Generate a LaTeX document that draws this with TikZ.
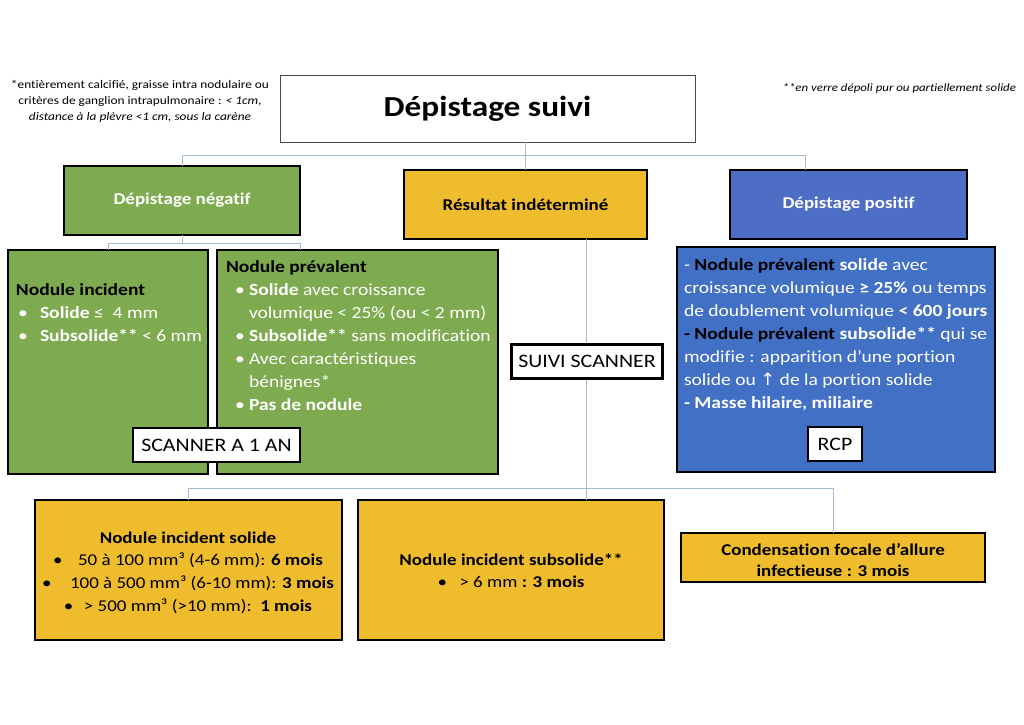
\documentclass[tikz,border=0pt]{standalone}
\usepackage{fontspec}
\setmainfont{Carlito}[FakeStretch=1.15, Ligatures=NoCommon]
\newfontfamily\symf{DejaVu Sans}[FakeStretch=1.05]
\definecolor{gfill}{HTML}{7FAB50}
\definecolor{yfill}{HTML}{EFBC2E}
\definecolor{hblue}{HTML}{4E6EC6}
\definecolor{bblue}{HTML}{4170C4}
\definecolor{connc}{HTML}{A6BAD0}
\newcommand\bdot[2]{\hspace*{#1}\makebox[#2][l]{•}}
\begin{document}
\begin{tikzpicture}[x=1pt,y=-1pt,
  conn/.style={draw=connc, line width=1pt},
  boxbase/.style={draw=black, line width=1.2pt, inner sep=0pt, outer sep=0pt},
  gbox/.style={boxbase, fill=gfill},
  ybox/.style={boxbase, fill=yfill},
  hbbox/.style={boxbase, fill=hblue},
  bbbox/.style={boxbase, fill=bblue},
  wbox/.style={draw=black, line width=2.2pt, fill=white, inner sep=0pt, outer sep=0pt, font=\fontsize{19}{22}\selectfont},
  hdrtxt/.style={font=\fontsize{16.5}{20}\selectfont\bfseries},
  body/.style={inner sep=0pt, outer sep=0pt, font=\fontsize{17}{23}\selectfont},
  bodyc/.style={inner sep=0pt, outer sep=0pt, font=\fontsize{16.5}{22.8}\selectfont},
  note/.style={inner sep=0pt, outer sep=0pt, font=\fontsize{11.6}{16}\selectfont}
]
\fill[white] (0,0) rectangle (1024,724);
\useasboundingbox (0,0) rectangle (1024,724);

% top notes
\node[note, anchor=center, align=center] (noteL) at (140,101)
  {*entièrement calcifié, graisse intra nodulaire ou\\
   critères de ganglion intrapulmonaire : \textit{< 1cm,}\\
   \textit{distance à la plèvre <1 cm, sous la carène}};
\node[note, anchor=east, font=\fontsize{11.2}{16}\selectfont] (noteR) at (1016,88)
  {\textit{**en verre dépoli pur ou partiellement solide}};

% title
\node[draw=black!70, line width=0.8pt, fill=white, minimum width=415, minimum height=67,
      inner sep=0pt, font=\fontsize{29}{32}\selectfont\bfseries] (title) at (487.5,108.5) {Dépistage suivi};

% headers
\node[gbox, hdrtxt, text=white, minimum width=236, minimum height=69] (neg) at (182,200.5) {Dépistage négatif};
\node[ybox, hdrtxt, text=black, minimum width=243, minimum height=69] (ind) at (525.5,204.5) {Résultat indéterminé};
\node[hbbox, hdrtxt, text=white, minimum width=237, minimum height=69] (pos) at (848.5,204.5) {Dépistage positif};

% second row boxes
\node[gbox, minimum width=200, minimum height=224] (inc) at (108,362) {};
\node[gbox, minimum width=281, minimum height=224] (prev) at (357.5,362) {};
\node[bbbox, minimum width=318, minimum height=225] (posb) at (836,359.5) {};

% bottom boxes
\node[ybox, minimum width=307, minimum height=140] (sol) at (188.5,570) {};
\node[ybox, minimum width=306, minimum height=140] (mid) at (511,570) {};
\node[ybox, minimum width=304, minimum height=49] (cond) at (833,557.5) {};

% connectors
\coordinate (jp) at (805,155);
\coordinate (kl) at (108,243);
\coordinate (kr) at (300,243);
\coordinate (mj) at (586,488);
\coordinate (ml) at (188,488);
\coordinate (mr) at (833,488);
\draw[conn] (title.south -| ind.north) -- (ind.north);
\draw[conn] (neg.north) -- (neg.north |- jp) -- (jp) -- (jp |- pos.north);
\draw[conn] (neg.south) -- (neg.south |- kl);
\draw[conn] (inc.north) -- (kl) -- (kr) -- (kr |- prev.north);
\draw[conn] (ind.south -| mj) -- (mj |- mid.north);
\draw[conn] (ml |- sol.north) -- (ml) -- (mr) -- (mr |- cond.north);

% white label boxes
\node[wbox, minimum width=167, minimum height=34] (scan1) at (216.5,445) {SCANNER A 1 AN};
\node[wbox, minimum width=151, minimum height=34] (scan2) at (587,361.5) {SUIVI SCANNER};
\node[wbox, minimum width=54, minimum height=34] (rcp) at (835,444) {RCP};

% body texts
\node[body, anchor=base west, text=white] (inctxt) at (16,295) {%
\begin{tabular}[t]{@{}l@{}}
\textcolor{black}{\textbf{Nodule incident}}\\
\bdot{2pt}{22pt}\textbf{Solide} ≤\ \ 4 mm\\
\bdot{2pt}{22pt}\textbf{Subsolide**} < 6 mm
\end{tabular}};

\node[body, anchor=base west, text=white] (prevtxt) at (226,272) {%
\begin{tabular}[t]{@{}l@{}}
\textcolor{black}{\textbf{Nodule prévalent}}\\
\bdot{9pt}{14pt}\textbf{Solide} avec croissance\\
\hspace*{23pt}volumique < 25\% (ou < 2 mm)\\
\bdot{9pt}{14pt}\textbf{Subsolide**} sans modification\\
\bdot{9pt}{14pt}Avec caractéristiques\\
\hspace*{23pt}bénignes*\\
\bdot{9pt}{14pt}\textbf{Pas de nodule}
\end{tabular}};

\node[body, anchor=base west, text=white] (postxt) at (684,270) {%
\begin{tabular}[t]{@{}l@{}}
- \textcolor{black}{\textbf{Nodule prévalent}} \textbf{solide} avec\\
croissance volumique \textbf{≥ 25\%} ou temps\\
de doublement volumique \textbf{< 600 jours}\\
\textcolor{black}{\textbf{- Nodule prévalent}} \textbf{subsolide**} qui se\\
modifie : apparition d’une portion\\
solide ou {\symf ↑} de la portion solide\\
\textbf{- Masse hilaire, miliaire}
\end{tabular}};

\node[bodyc, anchor=base] (soltxt) at (188,543) {%
\begin{tabular}[t]{@{}c@{}}
\textbf{Nodule incident solide}\\
\makebox[25pt][l]{•}50 à 100 mm³ (4-6 mm): \textbf{6 mois}\\
\makebox[28pt][l]{•}100 à 500 mm³ (6-10 mm): \textbf{3 mois}\\
\makebox[20pt][l]{•}> 500 mm³ (>10 mm):\ \ \textbf{1 mois}
\end{tabular}};

\node[bodyc, anchor=base] (midtxt) at (511,565) {%
\begin{tabular}[t]{@{}c@{}}
\textbf{Nodule incident subsolide**}\\
\makebox[22pt][l]{•}> 6 mm \textbf{: 3 mois}
\end{tabular}};

\node[bodyc, anchor=base, font=\fontsize{16.5}{21}\selectfont\bfseries] (condtxt) at (833,555) {%
\begin{tabular}[t]{@{}c@{}}
Condensation focale d’allure\\
infectieuse : 3 mois
\end{tabular}};
\end{tikzpicture}
\end{document}
